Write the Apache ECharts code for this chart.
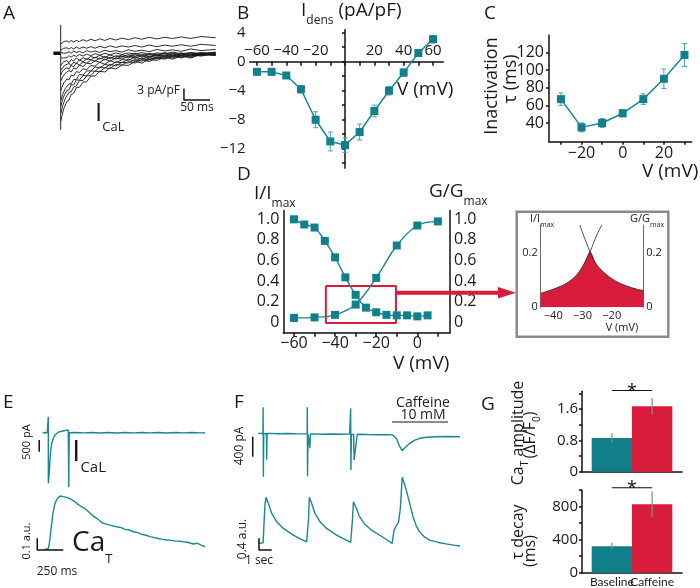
<!DOCTYPE html>
<html><head><meta charset="utf-8">
<script src="https://cdn.jsdelivr.net/npm/echarts@6.0.0/dist/echarts.min.js"></script>
<style>html,body{margin:0;padding:0;background:#fff}#c{width:700px;height:588px}</style>
</head><body><div id="c"></div>
<script>
// ===================== DATA =====================
// Panel A: superimposed ICaL traces (pA/pF) vs time (ms)
const tA = [0.5,2,4,6,9,12,16,20,25,30,36,43,50,58,66,75,85,95,106,118,130,143,156,170,185,200,215,232,250,270,298];
const traceA1 = [-17.3,-16.2,-15.8,-14.2,-13.7,-12.3,-12.0,-10.5,-10.3,-8.8,-8.7,-7.4,-7.3,-5.9,-5.8,-4.6,-4.8,-3.7,-4.0,-3.0,-3.1,-2.1,-2.5,-1.6,-1.8,-1.0,-1.5,-0.7,-1.2,-0.3,-0.6];
const traceA2 = [-15.3,-14.9,-13.4,-13.1,-11.5,-11.4,-10.0,-9.9,-8.6,-8.4,-7.0,-7.0,-5.8,-5.7,-4.6,-4.7,-3.7,-3.9,-2.9,-3.0,-2.1,-2.5,-1.6,-2.1,-1.2,-1.5,-0.7,-1.2,-0.4,-0.7,-0.1];
const traceA3 = [-13.5,-12.6,-12.4,-11.0,-10.7,-9.5,-9.4,-8.1,-8.1,-6.8,-6.9,-5.7,-5.8,-4.5,-4.6,-3.5,-3.8,-2.8,-3.2,-2.3,-2.5,-1.6,-2.0,-1.2,-1.4,-0.7,-1.2,-0.5,-1.0,-0.2,-0.5];
const traceA4 = [-12.0,-11.8,-10.5,-10.3,-9.0,-9.0,-7.8,-7.9,-6.7,-6.7,-5.4,-5.6,-4.5,-4.5,-3.5,-3.8,-2.8,-3.2,-2.2,-2.4,-1.5,-2.0,-1.2,-1.7,-0.9,-1.3,-0.4,-1.0,-0.3,-0.6,0.0];
const traceA5 = [-9.5,-8.8,-8.8,-7.6,-7.6,-6.6,-6.8,-5.6,-5.8,-4.7,-4.9,-4.0,-4.2,-3.1,-3.3,-2.3,-2.8,-1.9,-2.4,-1.6,-1.8,-1.0,-1.5,-0.7,-1.1,-0.4,-1.0,-0.2,-0.8,0.0,-0.4];
const traceA6 = [-7.0,-7.0,-6.0,-6.1,-5.1,-5.4,-4.4,-4.8,-3.8,-4.0,-3.0,-3.4,-2.5,-2.7,-1.9,-2.3,-1.5,-2.0,-1.2,-1.5,-0.7,-1.3,-0.6,-1.2,-0.4,-0.9,-0.1,-0.7,0.0,-0.4,0.1];
const traceA7 = [-5.5,-4.9,-5.2,-4.2,-4.5,-3.7,-4.1,-3.1,-3.5,-2.5,-3.0,-2.2,-2.6,-1.7,-2.0,-1.2,-1.7,-1.0,-1.5,-0.8,-1.2,-0.4,-1.0,-0.3,-0.7,0.0,-0.7,0.0,-0.7,0.1,-0.3];
const traceA8 = [-4.3,-4.4,-3.6,-3.8,-3.0,-3.4,-2.6,-3.1,-2.3,-2.6,-1.7,-2.2,-1.4,-1.7,-1.0,-1.5,-0.8,-1.4,-0.6,-1.0,-0.3,-0.9,-0.2,-0.9,-0.2,-0.6,0.1,-0.5,0.1,-0.3,0.2];
const traceA9 = [-3.0,-2.6,-3.0,-2.1,-2.5,-1.9,-2.4,-1.6,-2.0,-1.2,-1.8,-1.1,-1.6,-0.8,-1.2,-0.5,-1.1,-0.4,-1.0,-0.4,-0.8,0.0,-0.7,0.0,-0.5,0.2,-0.5,0.1,-0.5,0.2,-0.3];
const traceA10 = [-1.2,-1.4,-0.9,-1.2,-0.7,-1.1,-0.6,-1.0,-0.5,-0.8,-0.3,-0.7,-0.2,-0.6,-0.1,-0.5,0.0,-0.4,0.1,-0.3,0.1,-0.2,0.2,-0.3,0.1,-0.1,0.3,-0.1,0.2,0.0,0.3];
const traceA11 = [0.2,-0.2,0.4,0.0,0.5,0.1,0.4,0.0,0.6,0.2,0.5,0.1,0.7,0.3,0.6,0.2,0.8,0.4,0.7,0.3,0.9,0.5,0.8,0.4,1.0,0.6,0.9,0.5,1.1,0.7,1.0];
const traceA12 = [0.8,1.2,0.9,1.3,1.0,1.4,1.1,1.5,1.1,1.6,1.2,1.6,1.3,1.7,1.3,1.8,1.4,1.9,1.5,1.9,1.6,2.0,1.6,2.1,1.7,2.1,1.8,2.2,1.8,2.3,2.0];
const traceA13 = [2.4,2.9,2.6,3.0,2.7,3.2,2.8,3.3,2.9,3.3,3.0,3.5,3.1,3.6,3.2,3.7,3.3,3.8,3.4,3.9,3.5,4.0,3.6,4.1,3.7,4.1,3.8,4.2,3.8,4.3,4.0];
const artifactA = [7.3, -19.6];

// Panel B: I-V relation
const vB = [-60,-50,-40,-30,-20,-10,0,10,20,30,40,50,60];
const iB = [-1.4,-1.4,-1.9,-3.8,-8.0,-11.0,-11.5,-9.7,-6.8,-4.0,-1.5,1.2,3.1];
const errB = [0.1,0.1,0.15,0.5,1.1,1.3,1.0,1.1,0.8,0.6,0.5,0.4,0.5];

// Panel C: inactivation tau
const vC = [-30,-20,-10,0,10,20,30];
const tauC = [67,35,40,51,67,90,117];
const errC = [7,5,5,4,6,11,13];

// Panel D: steady-state inactivation & activation
const vInact = [-60,-55,-50,-45,-40,-35,-30,-25,-20,-15,-10,-5,0,5];
const inact = [1.0,0.95,0.92,0.79,0.63,0.435,0.265,0.14,0.095,0.07,0.065,0.065,0.055,0.065];
const vAct = [-60,-50,-40,-30,-20,-10,0,10];
const act = [0.04,0.045,0.07,0.17,0.43,0.745,0.94,0.98];
const windowBox = {vMin:-44.5, vMax:-10.4, yMin:-0.01, yMax:0.35};

// Inset: window current
const insetVG = [-44.3,-40,-35.4,-32,-29.7,-27.4,-25.1,-23.4];
const insetG = [0.052,0.067,0.089,0.12,0.157,0.206,0.268,0.305];
const insetVI = [-30.9,-29.7,-27.4,-25.1,-21.7,-18.3,-14.9,-11.4,-9.1];
const insetI = [0.305,0.268,0.206,0.157,0.12,0.095,0.079,0.067,0.062];
const insetCrossV = -27.4;

// Panel E: ICaL (pA) and CaT (a.u.) vs time (ms)
const tEI = [-54,-30,-10,-1,0,1,4,10,20,33,48,64,90,112,150,192,197,199,202,260,340,420,500,580,660,740,820,900,980,1060,1140,1220,1300,1380,1460,1505];
const iE = [0,8,-6,0,680,-2160,-2000,-1700,-900,-450,-250,-100,0,43,85,115,-2320,-1000,0,12,-8,10,-10,6,-12,8,-6,10,-8,6,-10,8,-6,10,-8,0];
const tEC = [-32,-15,0,8,16,25,33,45,64,85,112,140,177,215,250,273,310,340,369,400,430,465,500,529,560,600,657,700,740,780,817,860,900,940,978,1020,1060,1100,1138,1180,1220,1260,1298,1340,1394,1430,1470,1507];
const cE = [0.0,0.01,0.005,0.04,0.09,0.16,0.22,0.31,0.39,0.43,0.456,0.45,0.444,0.43,0.41,0.393,0.37,0.355,0.336,0.31,0.285,0.265,0.24,0.222,0.215,0.205,0.193,0.185,0.17,0.165,0.15,0.142,0.128,0.12,0.108,0.1,0.092,0.085,0.079,0.076,0.07,0.07,0.065,0.06,0.045,0.052,0.035,0.022];

// Panel F: membrane current (pA) and CaT (a.u.) vs time (s)
const tFI = [0,0.2,0.37,0.38,0.40,0.43,0.55,0.64,0.66,0.69,0.9,1.5,2.2,3.0,3.6,3.85,3.86,3.88,3.92,4.0,4.07,4.1,4.3,5.0,5.8,6.6,7.2,7.27,7.28,7.30,7.34,7.44,7.52,7.55,7.8,8.6,9.4,10.2,10.6,10.9,11.1,11.34,11.6,11.94,12.3,12.73,13.3,14.0,14.8,15.9];
const iF = [20,15,22,540,-850,15,18,12,-510,15,18,12,15,10,8,10,540,-840,5,8,-280,5,8,2,5,0,3,0,520,-714,0,-2,-3,-514,0,-5,-8,-10,-12,-90,-220,-328,-260,-180,-120,-80,-58,-48,-45,-48];
const tFC = [0,0.2,0.38,0.45,0.53,0.61,0.79,1.05,1.45,1.97,2.76,3.3,3.81,3.92,3.97,4.02,4.2,4.46,4.86,5.38,6.17,6.7,7.28,7.36,7.42,7.5,7.68,7.94,8.34,8.86,9.65,10.1,10.55,10.7,10.9,11.05,11.2,11.34,11.55,11.8,12.0,12.2,12.45,12.7,13.1,13.5,14.2,14.8,15.4,15.9];
const cF = [0.0,0.01,0.02,0.7,1.35,1.575,1.37,1.03,0.74,0.51,0.28,0.15,0.05,0.06,0.9,1.575,1.37,1.03,0.74,0.51,0.28,0.16,0.03,0.05,0.8,1.42,1.25,0.95,0.68,0.47,0.26,0.13,0.0,0.45,0.62,0.72,1.2,2.26,2.0,1.6,1.25,0.91,0.6,0.4,0.22,0.11,0.03,-0.02,-0.06,-0.09];

// Panel G: bar summaries
const groupsG = ['Baseline','Caffeine'];
const ampMean = [0.86, 1.67];
const ampErr = [0.12, 0.21];
const decayMean = [320, 830];
const decayErr = [42, 158];
const sigAmpLevel = 2.07;
const sigDecayLevel = 1030;

// Scale bars (size in data units)
const scaleA = {t:237, y:-9, dy:-3, dt:50};
const scaleEI = {t:-87, y:-312, dy:-500};
const scaleEC = {t:-106, y:0.094, dy:-0.1, dt:250};
const scaleFI = {t:-0.44, y:-48, dy:-400};
const scaleFC = {t:0.055, y:0.171, dy:-0.4, dt:1};

// ===================== STYLE =====================
const FONT = "'Open Sans', 'DejaVu Sans', sans-serif";
const FONT_N = "Lato, 'Open Sans', sans-serif";
const INK = '#1a1a1a';
const TEAL = '#1a8792';
const TEAL_MK = '#12808a';
const TEAL_ERR = '#4aa3ab';
const TEAL_BAR = '#117f8a';
const RED = '#da1c3c';
const AX = {color:'#111', width:1.5};
const minus = v => String(v).replace('-', '\u2212');

const grids = [
  [50.3, 22.1, 166.4, 109.2],   // A
  [249.6, 29.8, 193.7, 138.5],  // B
  [549, 35, 142.7, 106.7],      // C
  [283.3, 210.6, 166.7, 122.1], // D
  [540.7, 225, 102.6, 82.3],    // inset
  [35.8, 409.3, 169.2, 79.6],   // E top
  [35.8, 479.1, 169.2, 81.9],   // E bottom
  [250.7, 404.3, 209.3, 75],    // F top
  [250.7, 470.3, 209.3, 84.7],  // F bottom
  [582, 391.3, 100, 80.4],      // G top
  [582, 490.2, 100, 82.5]       // G bottom
].map(g => ({left:g[0], top:g[1], width:g[2], height:g[3], containLabel:false}));

function hiddenAxis(gi, min, max) {
  return {type:'value', gridIndex:gi, min, max, show:false, splitLine:{show:false}};
}
function lbl(size, margin, fmt) {
  return {color:INK, fontSize:size, fontFamily:FONT, margin, formatter: fmt || minus};
}
function range(a, b, s) { const r=[]; for (let v=a; v<=b+1e-9; v+=s) r.push(+v.toFixed(4)); return r; }
const fmt1 = v => v === 0 ? '0' : (+v).toFixed(1);

// B: x axis sits on the I = 0 line (offset from grid top)
const bZeroOffset = -(4.4 * 138.5 / 19.1);

const xAxis = [
  hiddenAxis(0, -20, 300),
  {type:'value', gridIndex:1, min:-65, max:67, position:'top', offset:bZeroOffset, splitLine:{show:false},
   axisLine:{onZero:false, lineStyle:AX}, axisTick:{inside:true, length:4, lineStyle:AX, customValues:range(-60,60,10)},
   axisLabel:Object.assign(lbl(15,3), {customValues:[-60,-40,-20,20,40,60]})},
  {type:'value', gridIndex:2, min:-35.8, max:33.5, splitLine:{show:false},
   axisLine:{onZero:false, lineStyle:AX}, axisTick:{length:3, lineStyle:AX, customValues:range(-30,30,10)},
   axisLabel:Object.assign(lbl(16,4), {customValues:[-20,0,20]})},
  {type:'value', gridIndex:3, min:-65.2, max:15.9, splitLine:{show:false},
   axisLine:{onZero:false, lineStyle:AX}, axisTick:{length:4, lineStyle:AX, customValues:range(-60,10,10)},
   axisLabel:Object.assign(lbl(16,3), {customValues:[-60,-40,-20,0]})},
  {type:'value', gridIndex:4, min:-44.3, max:-9.2, splitLine:{show:false},
   axisLine:{show:false, onZero:false}, axisTick:{show:false},
   axisLabel:Object.assign(lbl(11,3), {customValues:[-40,-30,-20]})},
  hiddenAxis(5, -120, 1507),
  hiddenAxis(6, -120, 1507),
  hiddenAxis(7, -0.6, 15.9),
  hiddenAxis(8, -0.6, 15.9),
  {type:'category', gridIndex:9, data:['g'], axisLine:{lineStyle:AX}, axisTick:{show:false}, axisLabel:{show:false}},
  {type:'category', gridIndex:10, data:['g'], axisLine:{lineStyle:AX}, axisTick:{show:false}, axisLabel:{show:false}}
];

const yAxis = [
  hiddenAxis(0, -20, 8),
  {type:'value', gridIndex:1, min:-14.7, max:4.4, splitLine:{show:false},
   axisLine:{onZero:true, lineStyle:AX}, axisTick:{length:3, lineStyle:AX, customValues:range(-14,4,2)},
   axisLabel:Object.assign(lbl(15,4), {customValues:[-12,-8,-4,0,4]})},
  {type:'value', gridIndex:2, min:18.8, max:139.6, splitLine:{show:false},
   axisLine:{onZero:false, lineStyle:AX}, axisTick:{length:3, lineStyle:AX, customValues:range(40,120,20)},
   axisLabel:Object.assign(lbl(16,5), {customValues:range(40,120,20)})},
  {type:'value', gridIndex:3, min:-0.104, max:1.085, splitLine:{show:false},
   axisLine:{onZero:false, lineStyle:AX}, axisTick:{show:false},
   axisLabel:Object.assign(lbl(16,4,fmt1), {customValues:range(0,1,0.2)})},
  {type:'value', gridIndex:3, position:'right', min:-0.104, max:1.085, splitLine:{show:false},
   axisLine:{onZero:false, lineStyle:AX}, axisTick:{show:false},
   axisLabel:Object.assign(lbl(16,4,fmt1), {customValues:range(0,1,0.2)})},
  {type:'value', gridIndex:4, min:0, max:0.305, splitLine:{show:false},
   axisLine:{onZero:false, lineStyle:{color:'#444', width:0.8}}, axisTick:{show:false},
   axisLabel:Object.assign(lbl(11,3,fmt1), {customValues:[0,0.2]})},
  {type:'value', gridIndex:4, position:'right', min:0, max:0.305, splitLine:{show:false},
   axisLine:{onZero:false, lineStyle:{color:'#444', width:0.8}}, axisTick:{show:false},
   axisLabel:Object.assign(lbl(11,3,fmt1), {customValues:[0,0.2]})},
  hiddenAxis(5, -2400, 1000),
  hiddenAxis(6, -0.1, 0.6),
  hiddenAxis(7, -900, 600),
  hiddenAxis(8, -0.4, 2.5),
  {type:'value', gridIndex:9, min:0, max:2.05, splitLine:{show:false},
   axisLine:{show:true, onZero:false, lineStyle:AX}, axisTick:{show:true, length:3, lineStyle:AX, customValues:range(0,2,0.4)},
   axisLabel:Object.assign(lbl(15,4,fmt1), {customValues:[0,0.8,1.6]})},
  {type:'value', gridIndex:10, min:0, max:1000, splitLine:{show:false},
   axisLine:{show:true, onZero:false, lineStyle:AX}, axisTick:{show:true, length:3, lineStyle:AX, customValues:range(0,1000,200)},
   axisLabel:Object.assign(lbl(15,4), {customValues:[0,400,800]})}
];

const series = [];
function line(xi, yi, data, color, width, extra) {
  series.push(Object.assign({type:'line', xAxisIndex:xi, yAxisIndex:yi, data, symbol:'none', showSymbol:false,
    silent:true, animation:false, lineStyle:{color, width}}, extra||{}));
}
const zip = (a, b) => a.map((v, i) => [v, b[i]]);

// ---- A ----
[traceA1,traceA2,traceA3,traceA4,traceA5,traceA6,traceA7,traceA8,traceA9,traceA10,traceA11,traceA12,traceA13]
  .forEach(tr => line(0, 0, zip(tA, tr), '#161616', 0.9));
line(0, 0, [[-14,0],[0,0]], '#111', 3.5);
line(0, 0, [[0, artifactA[0]], [0, artifactA[1]]], '#222', 1);
line(0, 0, [[scaleA.t, scaleA.y],[scaleA.t, scaleA.y+scaleA.dy],[scaleA.t+scaleA.dt, scaleA.y+scaleA.dy]], '#111', 1.5);

// error bar renderer
function errRender(capHalf, color, xOff, width) {
  return function (params, api) {
    const x = api.value(0), lo = api.value(1), hi = api.value(2);
    const p1 = api.coord([x, lo]), p2 = api.coord([x, hi]);
    const xx = p1[0] + (xOff || 0);
    const st = {stroke: color, lineWidth: width || 1};
    const ch = [{type:'line', shape:{x1:xx, y1:p1[1], x2:xx, y2:p2[1]}, style:st}];
    if (capHalf) {
      ch.push({type:'line', shape:{x1:xx-capHalf, y1:p1[1], x2:xx+capHalf, y2:p1[1]}, style:st});
      ch.push({type:'line', shape:{x1:xx-capHalf, y1:p2[1], x2:xx+capHalf, y2:p2[1]}, style:st});
    }
    return {type:'group', children:ch};
  };
}

// ---- B ----
series.push({type:'custom', xAxisIndex:1, yAxisIndex:1, silent:true, animation:false,
  data: vB.map((v,i)=>[v, iB[i]-errB[i], iB[i]+errB[i]]), encode:{x:0, y:[1,2]},
  renderItem: errRender(2.5, TEAL_ERR, 0, 1)});
line(1, 1, zip(vB, iB), TEAL, 1.5, {symbol:'rect', showSymbol:true, symbolSize:8, itemStyle:{color:TEAL_MK}});

// ---- C ----
series.push({type:'custom', xAxisIndex:2, yAxisIndex:2, silent:true, animation:false,
  data: vC.map((v,i)=>[v, tauC[i]-errC[i], tauC[i]+errC[i]]), encode:{x:0, y:[1,2]},
  renderItem: errRender(2.5, TEAL_ERR, 0, 1)});
line(2, 2, zip(vC, tauC), TEAL, 1.5, {symbol:'rect', showSymbol:true, symbolSize:8, itemStyle:{color:TEAL_MK}});

// ---- D ----
line(3, 3, [[windowBox.vMin,windowBox.yMax],[windowBox.vMax,windowBox.yMax],[windowBox.vMax,windowBox.yMin],[windowBox.vMin,windowBox.yMin],[windowBox.vMin,windowBox.yMax]], RED, 2);
line(3, 3, zip(vInact, inact), TEAL, 1.4, {smooth:0.35, symbol:'rect', showSymbol:true, symbolSize:8, itemStyle:{color:TEAL_MK}});
line(3, 3, zip(vAct, act), TEAL, 1.4, {smooth:0.35, symbol:'rect', showSymbol:true, symbolSize:8, itemStyle:{color:TEAL_MK}});

// ---- inset ----
const fillData = zip(insetVG, insetG).filter(p => p[0] <= insetCrossV).concat(zip(insetVI, insetI).filter(p => p[0] > insetCrossV));
line(4, 5, fillData, RED, 0, {smooth:0.3, areaStyle:{color:RED, opacity:1}, lineStyle:{width:0}});
line(4, 5, zip(insetVG, insetG), '#222', 0.8, {smooth:0.3});
line(4, 5, zip(insetVI, insetI), '#222', 0.8, {smooth:0.3});

// ---- E ----
line(5, 7, zip(tEI, iE), TEAL, 1.4);
line(6, 8, zip(tEC, cE), TEAL, 1.4);
line(5, 7, [[scaleEI.t, scaleEI.y],[scaleEI.t, scaleEI.y+scaleEI.dy]], '#111', 1.5);
line(6, 8, [[scaleEC.t, scaleEC.y],[scaleEC.t, scaleEC.y+scaleEC.dy],[scaleEC.t+scaleEC.dt, scaleEC.y+scaleEC.dy]], '#111', 1.5);

// ---- F ----
line(7, 9, zip(tFI, iF), TEAL, 1.4);
line(8, 10, zip(tFC, cF), TEAL, 1.4);
line(7, 9, [[scaleFI.t, scaleFI.y],[scaleFI.t, scaleFI.y+scaleFI.dy]], '#111', 1.5);
line(8, 10, [[scaleFC.t, scaleFC.y],[scaleFC.t, scaleFC.y+scaleFC.dy],[scaleFC.t+scaleFC.dt, scaleFC.y+scaleFC.dy]], '#111', 1.5);

// ---- G ----
const BW = 40.3;
function barsG(xi, yi, means, errs, sigLevel, withLabels) {
  groupsG.forEach((name, i) => {
    series.push({type:'bar', name, xAxisIndex:xi, yAxisIndex:yi, data:[means[i]], barWidth:BW, barGap:'0%',
      silent:true, animation:false, itemStyle:{color: i === 0 ? TEAL_BAR : RED},
      label: withLabels ? {show:true, position:'bottom', distance:3, formatter:'{a}', color:INK, fontSize:12, fontFamily:FONT_N} : {show:false}});
  });
  groupsG.forEach((name, i) => {
    series.push({type:'custom', xAxisIndex:xi, yAxisIndex:yi, silent:true, animation:false, z:5,
      data:[[0, means[i]-errs[i], means[i]+errs[i]]], encode:{x:0, y:[1,2]},
      renderItem: errRender(0, '#8a8a8a', (i === 0 ? -1 : 1) * BW / 2, 1.2)});
  });
  series.push({type:'custom', xAxisIndex:xi, yAxisIndex:yi, silent:true, animation:false, clip:false, z:5,
    data:[[0, sigLevel]], encode:{x:0, y:1},
    renderItem: (params, api) => {
      const c = api.coord([0, api.value(1)]);
      return {type:'group', children:[
        {type:'line', shape:{x1:c[0]-BW/2, y1:c[1], x2:c[0]+BW/2, y2:c[1]}, style:{stroke:'#111', lineWidth:1.2}},
        {type:'text', style:{text:'*', x:c[0], y:c[1]+10, fontSize:18, fontFamily:FONT, fill:'#111', align:'center', verticalAlign:'bottom', textAlign:'center', textVerticalAlign:'bottom'}}
      ]};
    }});
}
barsG(9, 11, ampMean, ampErr, sigAmpLevel, false);
barsG(10, 12, decayMean, decayErr, sigDecayLevel, true);

// ===================== TEXT =====================
const ROT = Math.PI / 2;
function T(x, y, text, size, align, valign, extra) {
  const a = align || 'left', va = valign || 'top';
  return Object.assign({type:'text', x, y, z:100, silent:true,
    style:{text, fontSize:size, fontFamily:FONT, fill:INK, align:a, verticalAlign:va, textAlign:a, textVerticalAlign:va}}, extra || {});
}
function R(x, y, text, big, small, pad, align, valign, extra) {
  const el = T(x, y, text, big, align, valign, extra);
  el.style.rich = {
    m:{fontSize:big, fontFamily:FONT, fill:INK, verticalAlign:'top', lineHeight:big*1.2},
    s:{fontSize:small, fontFamily:FONT, fill:INK, verticalAlign:'top', padding:[pad,0,0,0]}
  };
  return el;
}
const graphic = [
  T(3, 4, 'A', 19), T(237, 4, 'B', 19), T(484, 4, 'C', 19), T(237, 165, 'D', 19),
  T(3, 393, 'E', 19), T(234, 393, 'F', 19), T(481, 395, 'G', 19),
  // A
  T(180, 91, '3 pA/pF', 12, 'right', 'middle'),
  T(197, 108, '50 ms', 12, 'center', 'middle'),
  R(95, 101, '{m|I}{s|CaL}', 26, 13, 20),
  // B
  R(301, 1, '{m|I}{s|dens}{m| (pA/pF)}', 19, 12, 14),
  T(397, 90, 'V (mV)', 19, 'left', 'middle'),
  // C
  T(492, 86, 'Inactivation', 18, 'center', 'middle', {rotation:ROT}),
  T(511, 79, '\u03c4 (ms)', 18, 'center', 'middle', {rotation:ROT}),
  T(642, 172, 'V (mV)', 19, 'left', 'middle'),
  // D
  R(254, 184, '{m|I/I}{s|max}', 19, 12, 14),
  R(429, 182, '{m|G/G}{s|max}', 19, 12, 14),
  T(393, 364, 'V (mV)', 19, 'left', 'middle'),
  // inset
  R(530, 213, '{m|I/I}{s|max}', 11, 7, 8),
  R(630, 213, '{m|G/G}{s|max}', 11, 7, 8),
  T(622, 328, 'V (mV)', 11, 'center', 'middle'),
  // E
  T(27, 442, '500 pA', 11, 'center', 'middle', {rotation:ROT}),
  R(72, 437, '{m|I}{s|CaL}', 30, 15, 23),
  R(72, 529, '{m|Ca}{s|T}', 28, 13, 24),
  T(26.5, 541, '0.1 a.u.', 11, 'center', 'middle', {rotation:ROT}),
  T(57, 572, '250 ms', 12, 'center', 'middle'),
  // F
  T(423, 403, 'Caffeine', 14, 'center', 'middle'),
  T(423, 415, '10 mM', 14, 'center', 'middle'),
  {type:'line', z:100, silent:true, shape:{x1:392, y1:422, x2:448, y2:422}, style:{stroke:INK, lineWidth:1.2}},
  T(240, 446, '400 pA', 12, 'center', 'middle', {rotation:ROT}),
  T(243, 539, '0.4 a.u.', 12, 'center', 'middle', {rotation:ROT}),
  T(259, 561, '1 sec', 12, 'center', 'middle'),
  // G
  R(520, 433, '{m|Ca}{s|T}{m| amplitude}', 16, 10, 10, 'center', 'middle', {rotation:ROT}),
  R(532, 435, '{m|(\u0394F/F}{s|0}{m|)}', 16, 10, 10, 'center', 'middle', {rotation:ROT}),
  T(518, 532, '\u03c4 decay', 16, 'center', 'middle', {rotation:ROT}),
  T(530, 551, '(ms)', 16, 'center', 'middle', {rotation:ROT}),
  // D -> inset arrow and inset frame
  {type:'line', z:90, silent:true, shape:{x1:396, y1:292.7, x2:500, y2:292.7}, style:{stroke:RED, lineWidth:4}},
  {type:'polygon', z:90, silent:true, shape:{points:[[498,287],[516,292.7],[498,298.5]]}, style:{fill:RED}},
  {type:'rect', z:90, silent:true, shape:{x:516.7, y:211.7, width:151.6, height:125}, style:{fill:'rgba(0,0,0,0)', stroke:'#8a8a8a', lineWidth:2.5}}
];

const chart = echarts.init(document.getElementById('c'), null, {renderer:'canvas', width:700, height:588});
chart.setOption({
  animation:false,
  backgroundColor:'#ffffff',
  textStyle:{fontFamily:FONT},
  grid: grids, xAxis, yAxis, series, graphic
});
</script></body></html>
